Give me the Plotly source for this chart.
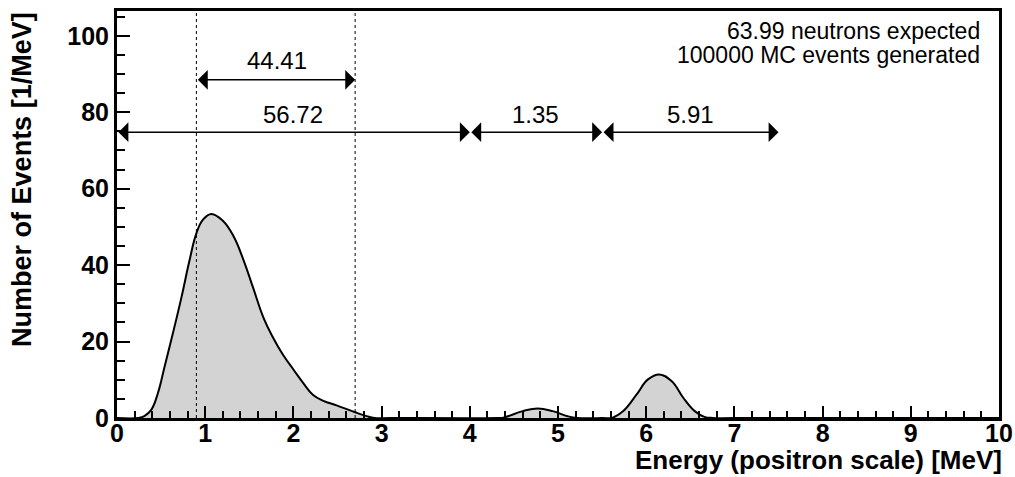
import plotly.graph_objects as go

# Spectrum
energy = [0.0, 0.24, 0.31, 0.39, 0.465, 0.54, 0.635, 0.73, 0.82, 0.90, 0.975, 1.07, 1.20, 1.32,
          1.43, 1.54, 1.665, 1.77, 1.88, 2.0, 2.11, 2.22, 2.34, 2.49, 2.70, 2.83, 2.92, 3.1,
          4.3, 4.38, 4.6, 4.77, 4.94, 5.11, 5.22, 5.5, 5.62, 5.74, 5.89, 6.02, 6.15, 6.29,
          6.42, 6.55, 6.66, 6.76, 7.0, 10.0]
events = [0.0, 0.0, 0.5, 2.2, 6.6, 13.5, 22.3, 31.5, 41.0, 48.3, 51.9, 53.4, 51.6, 47.6,
          41.6, 34.3, 26.0, 21.0, 16.6, 12.7, 9.2, 6.1, 4.5, 3.3, 1.5, 0.5, 0.0, 0.0,
          0.0, 0.1, 1.8, 2.5, 1.8, 0.45, 0.0, 0.0, 0.1, 1.8, 6.1, 10.1, 11.4, 9.6,
          5.3, 1.8, 0.3, 0.0, 0.0, 0.0]

cut_lines = [0.9, 2.7]
arrow_start = [0.9, 0.0, 4.0, 5.5]
arrow_end = [2.7, 4.0, 5.5, 7.5]
arrow_y = [88.5, 74.8, 74.8, 74.8]
arrow_labels = ["44.41", "56.72", "1.35", "5.91"]
label_y = [93.5, 79.5, 79.5, 79.5]
label_x = [1.81, 2.0, 4.75, 6.5]

info_lines = ["63.99 neutrons expected", "100000 MC events generated"]

x_ticks = list(range(0, 11))
y_ticks = [0, 20, 40, 60, 80, 100]

FONT = "Liberation Sans, Arial, Helvetica, sans-serif"

fig = go.Figure()
fig.add_trace(go.Scatter(
    x=energy, y=events, mode="lines",
    line=dict(color="black", width=2, shape="spline", smoothing=1.2),
    fill="tozeroy", fillcolor="rgb(211,211,211)",
    hoverinfo="skip", showlegend=False,
))

shapes = []
for xc in cut_lines:
    shapes.append(dict(type="line", xref="x", yref="y", x0=xc, x1=xc, y0=0, y1=106.5,
                       line=dict(color="black", width=1, dash="dot")))

annotations = []
for s, e, ay, lab, lx, ly in zip(arrow_start, arrow_end, arrow_y, arrow_labels, label_x, label_y):
    annotations.append(dict(
        x=e, y=ay, ax=s, ay=ay, xref="x", yref="y", axref="x", ayref="y",
        text="", showarrow=True, arrowhead=1, startarrowhead=1, arrowside="end+start",
        arrowsize=2.2, startarrowsize=2.2, arrowwidth=1.5, arrowcolor="black",
        standoff=0, startstandoff=0,
    ))
    annotations.append(dict(
        x=lx, y=ly, xref="x", yref="y", text=lab, showarrow=False,
        font=dict(family=FONT, size=24, color="black"), xanchor="center", yanchor="middle",
    ))

plot_w = 1015 - 117 - 16
plot_h = 477 - 11 - 59
for i, t in enumerate(info_lines):
    py = 31 + 24 * i
    annotations.append(dict(
        x=(982 - 117) / plot_w, y=1 - (py - 11) / plot_h, xref="paper", yref="paper",
        text=t, showarrow=False,
        font=dict(family=FONT, size=23, color="black"), xanchor="right", yanchor="middle",
    ))

annotations.append(dict(
    x=(1004 - 117) / plot_w, y=1 - (460 - 11) / plot_h, xref="paper", yref="paper",
    text="<b>Energy (positron scale) [MeV]</b>",
    showarrow=False, xanchor="right", yanchor="middle",
    font=dict(family=FONT, size=26, color="black"),
))
annotations.append(dict(
    x=-0.107, y=1.003, xref="paper", yref="paper", text="<b>Number of Events [1/MeV]</b>",
    showarrow=False, xanchor="center", yanchor="top", textangle=-90,
    font=dict(family=FONT, size=27, color="black"),
))

fig.update_layout(
    width=1015, height=477, autosize=False,
    margin=dict(l=117, r=16, t=11, b=59, autoexpand=False),
    paper_bgcolor="white", plot_bgcolor="white",
    showlegend=False,
    shapes=shapes,
    annotations=annotations,
)

fig.update_xaxes(
    range=[0, 10], tickvals=x_ticks, ticktext=[str(v) for v in x_ticks],
    ticks="inside", ticklen=12, tickwidth=1.5, tickcolor="black",
    minor=dict(dtick=0.2, tick0=0, ticks="inside", ticklen=7, tickwidth=1.5, tickcolor="black", showgrid=False),
    showline=True, linewidth=3, linecolor="black", mirror=True,
    showgrid=False, zeroline=False, automargin=False,
    tickfont=dict(family=FONT, size=25, color="black", weight="bold"),
    ticklabelstandoff=-9,
)
fig.update_yaxes(
    range=[0, 106.5], tickvals=y_ticks, ticktext=[str(v) for v in y_ticks],
    ticks="inside", ticklen=13, tickwidth=1.5, tickcolor="black",
    minor=dict(dtick=5, tick0=0, ticks="inside", ticklen=8, tickwidth=1.5, tickcolor="black", showgrid=False),
    showline=True, linewidth=3, linecolor="black", mirror=True,
    showgrid=False, zeroline=False, automargin=False,
    tickfont=dict(family=FONT, size=25, color="black", weight="bold"),
)

fig.write_html("out.html", config={"displayModeBar": False},
               post_script="document.body.style.margin='0';")
